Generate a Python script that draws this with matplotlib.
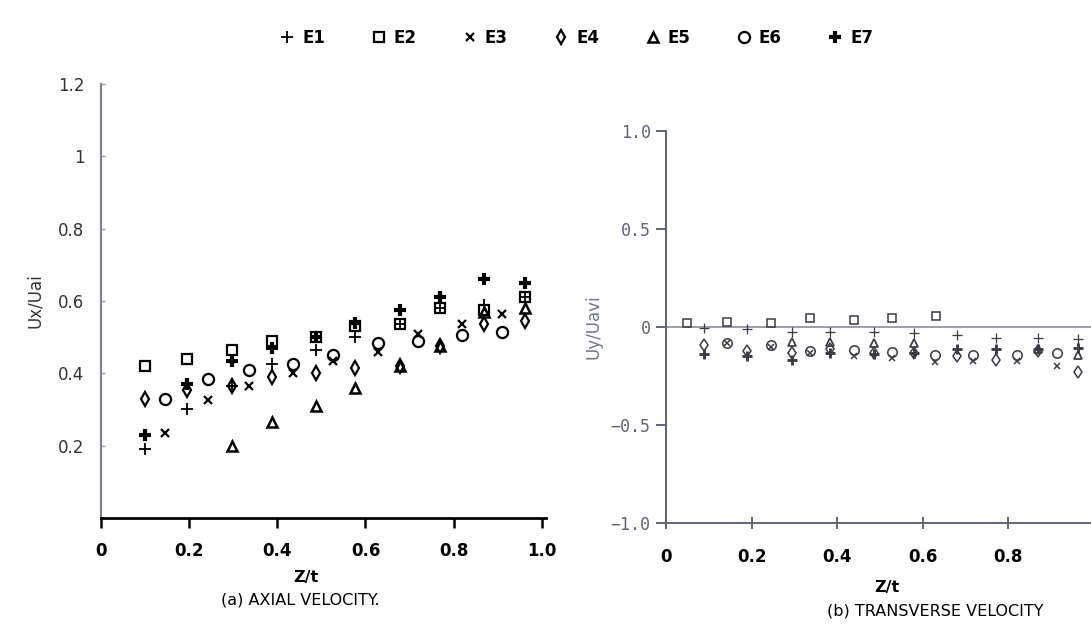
import numpy as np
import matplotlib.pyplot as plt
from matplotlib.lines import Line2D

plt.rcParams['font.family'] = ['Liberation Sans Narrow', 'DejaVu Sans']

# ---- (a) axial velocity ----
za = [0.10, 0.195, 0.297, 0.387, 0.487, 0.576, 0.678, 0.77, 0.868, 0.962]
za_mid = [0.145, 0.243, 0.336, 0.435, 0.527, 0.628, 0.72, 0.82, 0.91]
za_e5 = [0.297, 0.387, 0.487, 0.576, 0.678, 0.77, 0.868, 0.962]

ux_e1 = [0.19, 0.30, 0.365, 0.425, 0.465, 0.50, 0.535, 0.58, 0.59, 0.61]
ux_e2 = [0.42, 0.44, 0.465, 0.49, 0.50, 0.53, 0.535, 0.58, 0.575, 0.61]
ux_e3 = [0.235, 0.325, 0.365, 0.40, 0.435, 0.46, 0.51, 0.535, 0.565]
ux_e4 = [0.33, 0.355, 0.365, 0.39, 0.40, 0.415, 0.42, 0.475, 0.535, 0.545]
ux_e5 = [0.20, 0.265, 0.31, 0.36, 0.42, 0.475, 0.57, 0.58]
ux_e6 = [0.33, 0.385, 0.41, 0.425, 0.45, 0.485, 0.49, 0.505, 0.515]
ux_e7 = [0.23, 0.37, 0.435, 0.47, 0.50, 0.54, 0.575, 0.61, 0.66, 0.65]

# ---- (b) transverse velocity ----
zb = [0.09, 0.19, 0.294, 0.383, 0.486, 0.58, 0.68, 0.77, 0.87, 0.963]
zb_mid = [0.142, 0.245, 0.336, 0.44, 0.528, 0.628, 0.718, 0.82, 0.913]
zb_e2 = [0.05, 0.142, 0.245, 0.336, 0.44, 0.528, 0.63]
zb_e5 = [0.294, 0.383, 0.486, 0.58, 0.87, 0.963]

uy_e1 = [-0.005, -0.01, -0.025, -0.025, -0.025, -0.03, -0.04, -0.055, -0.055, -0.06]
uy_e2 = [0.02, 0.025, 0.02, 0.045, 0.035, 0.045, 0.055]
uy_e3 = [-0.08, -0.10, -0.13, -0.148, -0.16, -0.18, -0.175, -0.175, -0.20]
uy_e4 = [-0.09, -0.12, -0.13, -0.11, -0.13, -0.13, -0.15, -0.17, -0.12, -0.23]
uy_e5 = [-0.075, -0.075, -0.08, -0.08, -0.11, -0.145]
uy_e6 = [-0.08, -0.09, -0.12, -0.117, -0.125, -0.14, -0.145, -0.145, -0.13]
uy_e7 = [-0.135, -0.15, -0.17, -0.13, -0.135, -0.13, -0.11, -0.11, -0.11, -0.105]

labels = ['E1', 'E2', 'E3', 'E4', 'E5', 'E6', 'E7']
styles = [
    dict(marker='+', ms=8, mew=1.3, mfc='none'),
    dict(marker='s', ms=6.5, mew=1.6, mfc='none'),
    dict(marker='x', ms=5.5, mew=1.6, mfc='none'),
    dict(marker='d', ms=7, mew=1.6, mfc='none'),
    dict(marker='^', ms=7, mew=1.8, mfc='none'),
    dict(marker='o', ms=8, mew=1.6, mfc='none'),
    dict(marker='+', ms=9, mew=3.0, mfc='none'),
]

fig = plt.figure(figsize=(10.91, 6.29), dpi=100)

# left panel
ax1 = fig.add_axes([0.0926, 0.1765, 0.408, 0.690])
left_sets = [(za, ux_e1), (za, ux_e2), (za_mid, ux_e3), (za, ux_e4),
             (za_e5, ux_e5), (za_mid, ux_e6), (za, ux_e7)]
handles = []
for (x, y), st, lab in zip(left_sets, styles, labels):
    h, = ax1.plot(x, y, ls='none', color='black', label=lab, **st)
    handles.append(h)
ax1.set_xlim(0, 1.01)
ax1.set_ylim(0, 1.2)
ax1.spines['top'].set_visible(False)
ax1.spines['right'].set_visible(False)
ax1.spines['left'].set_color('#7d8294')
ax1.spines['left'].set_linewidth(1.6)
ax1.spines['bottom'].set_linewidth(2.0)
ax1.set_xticks([0, 0.2, 0.4, 0.6, 0.8, 1.0])
ax1.set_xticklabels(['0', '0.2', '0.4', '0.6', '0.8', '1.0'], fontweight='bold', fontsize=12)
ax1.set_yticks([0.2, 0.4, 0.6, 0.8, 1.0, 1.2])
ax1.set_yticklabels(['0.2', '0.4', '0.6', '0.8', '1', '1.2'], fontsize=12, color='#333333')
ax1.tick_params(axis='x', direction='out', length=7, width=1.8, pad=10)
ax1.tick_params(axis='y', direction='in', length=3, width=1, color='#9a9fae', pad=12)
ax1.set_ylabel('Ux/Uai', fontsize=12, color='#333333', labelpad=10)
ax1.set_xlabel('Z/t', fontsize=11.5, fontweight='bold')
ax1.xaxis.set_label_coords(0.46, -0.12)
fig.text(0.275, 0.046, '(a) AXIAL VELOCITY.', ha='center', va='center', fontsize=11.5)

# right panel
grey = '#5e6377'
ax2 = fig.add_axes([0.6104, 0.1685, 0.3896, 0.623])
right_sets = [(zb, uy_e1), (zb_e2, uy_e2), (zb_mid, uy_e3), (zb, uy_e4),
              (zb_e5, uy_e5), (zb_mid, uy_e6), (zb, uy_e7)]
for (x, y), st, lab in zip(right_sets, styles, labels):
    st2 = dict(st)
    st2['ms'] = st['ms'] * 0.85
    st2['mew'] = st['mew'] * 0.7
    ax2.plot(x, y, ls='none', color='#3c3c46', **st2)
ax2.axhline(0, color='#8a8e9c', lw=1.2, zorder=0)
ax2.set_xlim(0, 0.993)
ax2.set_ylim(-1.0, 1.0)
ax2.spines['top'].set_visible(False)
ax2.spines['right'].set_visible(False)
for s in ('left', 'bottom'):
    ax2.spines[s].set_color(grey)
    ax2.spines[s].set_linewidth(1.4)
ax2.set_xticks([0, 0.2, 0.4, 0.6, 0.8])
ax2.set_xticklabels(['0', '0.2', '0.4', '0.6', '0.8'], fontweight='bold', fontsize=12)
ax2.set_yticks([-1.0, -0.5, 0, 0.5, 1.0])
ax2.set_yticklabels(['\u22121.0', '\u22120.5', '0', '0.5', '1.0'],
                    family='DejaVu Sans Mono', fontsize=12, color=grey)
ax2.tick_params(axis='x', direction='inout', length=8, width=1.4, color=grey, pad=14)
ax2.tick_params(axis='y', direction='out', length=7, width=1.4, color=grey, pad=4)
ax2.set_ylabel('Uy/Uavi', fontsize=12, color='#6f7590', labelpad=6)
ax2.set_xlabel('Z/t', fontsize=11.5, fontweight='bold')
ax2.xaxis.set_label_coords(0.52, -0.145)
fig.text(0.857, 0.028, '(b) TRANSVERSE VELOCITY', ha='center', va='center', fontsize=11.5)

# legend across the top
fig.legend(handles, labels, ncol=7, loc='center', bbox_to_anchor=(0.528, 0.94),
           frameon=False, handlelength=1.0, handletextpad=0.4, columnspacing=2.7,
           prop={'weight': 'bold', 'size': 12}, numpoints=1)

fig.savefig('out.png', dpi=100)
